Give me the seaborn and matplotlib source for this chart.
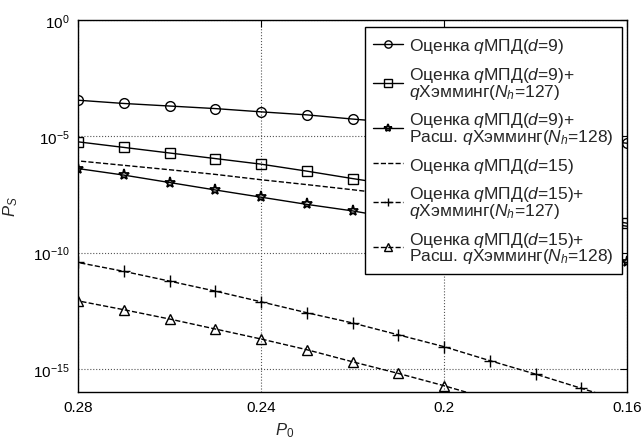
import matplotlib
matplotlib.use("Agg")
import matplotlib.pyplot as plt
import matplotlib.ticker as tick
import numpy as np
import pandas as pd
import seaborn as sns

# P0 values (x axis runs from 0.28 down to 0.16)
P0 = [0.28, 0.27, 0.26, 0.25, 0.24, 0.23, 0.22, 0.21, 0.20, 0.19, 0.18, 0.17, 0.16]

# log10 of P_S
LOG_MPD9 = [-3.45, -3.59, -3.70, -3.81, -3.95, -4.08, -4.26, -4.42, -4.58, -4.75, -4.92, -5.10, -5.30]
LOG_MPD9_H127 = [-5.24, -5.48, -5.72, -5.96, -6.20, -6.50, -6.82, -7.12, -7.43, -7.75, -8.07, -8.40, -8.74]
LOG_MPD9_H128 = [-6.39, -6.67, -6.99, -7.31, -7.62, -7.93, -8.21, -8.55, -8.91, -9.27, -9.65, -10.03, -10.43]
LOG_MPD15 = [-6.06, -6.25, -6.44, -6.64, -6.87, -7.08, -7.30, -7.53, -7.78, -8.03, -8.30, -8.58, -8.87]
LOG_MPD15_H127 = [-10.43, -10.81, -11.23, -11.66, -12.12, -12.59, -13.03, -13.54, -14.05, -14.65, -15.23, -15.84, -16.45]
LOG_MPD15_H128 = [-12.08, -12.46, -12.86, -13.29, -13.72, -14.18, -14.70, -15.20, -15.73, -16.30, -16.90, -17.50, -18.10]

LABELS = [
    "Оценка $q$МПД($d$=9)",
    "Оценка $q$МПД($d$=9)+\n$q$Хэмминг($N_h$=127)",
    "Оценка $q$МПД($d$=9)+\nРасш. $q$Хэмминг($N_h$=128)",
    "Оценка $q$МПД($d$=15)",
    "Оценка $q$МПД($d$=15)+\n$q$Хэмминг($N_h$=127)",
    "Оценка $q$МПД($d$=15)+\nРасш. $q$Хэмминг($N_h$=128)",
]
SERIES = [LOG_MPD9, LOG_MPD9_H127, LOG_MPD9_H128, LOG_MPD15, LOG_MPD15_H127, LOG_MPD15_H128]
MARKERS = ["o", "s", "*", "", "+", "^"]
LINESTYLES = ["-", "-", "-", "--", "--", "--"]

sns.set_style("white")
plt.rcParams.update({
    "font.family": ["Liberation Sans", "DejaVu Sans"],
    "mathtext.fontset": "custom",
    "mathtext.rm": "Liberation Sans",
    "mathtext.it": "Liberation Sans:italic",
    "mathtext.bf": "Liberation Sans:bold",
    "font.size": 10,
    "axes.edgecolor": "black",
    "axes.linewidth": 1.0,
    "xtick.direction": "in",
    "ytick.direction": "in",
    "xtick.color": "black",
    "ytick.color": "black",
})

DPI = 100
fig = plt.figure(figsize=(643 / DPI, 439 / DPI), dpi=DPI)
ax = fig.add_axes([78 / 643, 1 - 393 / 439, 549 / 643, 372 / 439])
ax.set_yscale("log")

for vals, lab, mk, ls in zip(SERIES, LABELS, MARKERS, LINESTYLES):
    df = pd.DataFrame({"P0": P0, "PS": np.power(10.0, vals)})
    kw = dict(dashes=(4.5, 3)) if ls == "--" else {}
    sns.lineplot(
        data=df, x="P0", y="PS", ax=ax, color="black", linewidth=1.0,
        linestyle=ls, marker=mk if mk else None,
        markersize=8 if mk == "*" else (8 if mk == "+" else 7),
        markerfacecolor="none", markeredgecolor="black",
        markeredgewidth=1.3 if mk == "*" else 1.0,
        label=lab, **kw,
    )

ax.set_xlim(0.28, 0.16)
ax.set_ylim(1e-16, 1e0)
ax.xaxis.set_major_locator(tick.FixedLocator([0.28, 0.24, 0.2, 0.16]))
ax.xaxis.set_major_formatter(tick.FixedFormatter(["0.28", "0.24", "0.2", "0.16"]))
ax.yaxis.set_major_locator(tick.FixedLocator([1e0, 1e-5, 1e-10, 1e-15]))
ax.yaxis.set_minor_locator(tick.NullLocator())
ax.yaxis.set_major_formatter(tick.LogFormatterSciNotation())
ax.tick_params(axis="both", which="major", labelsize=11, length=5, width=0.8,
               top=True, right=True, pad=6)
ax.grid(True, which="major", linestyle=":", color="#555555", linewidth=0.8)
for s in ax.spines.values():
    s.set_visible(True)
    s.set_color("black")

ax.set_xlabel("$P_0$", fontsize=12)
ax.set_ylabel("$P_S$", fontsize=12)
ax.xaxis.set_label_coords(0.377, -0.075)
ax.yaxis.set_label_coords(-0.105, 0.5)

leg = ax.legend(
    loc="upper right", bbox_to_anchor=(0.991, 0.980), borderaxespad=0,
    frameon=True, fancybox=False, edgecolor="black", framealpha=1,
    fontsize=12.5, handlelength=1.7, handletextpad=0.35, labelspacing=0.55,
    borderpad=0.5, markerscale=0.75,
)
leg.get_frame().set_linewidth(1.0)
for t in leg.get_texts():
    t.set_linespacing(0.85)

fig.savefig("out.png", dpi=DPI)
